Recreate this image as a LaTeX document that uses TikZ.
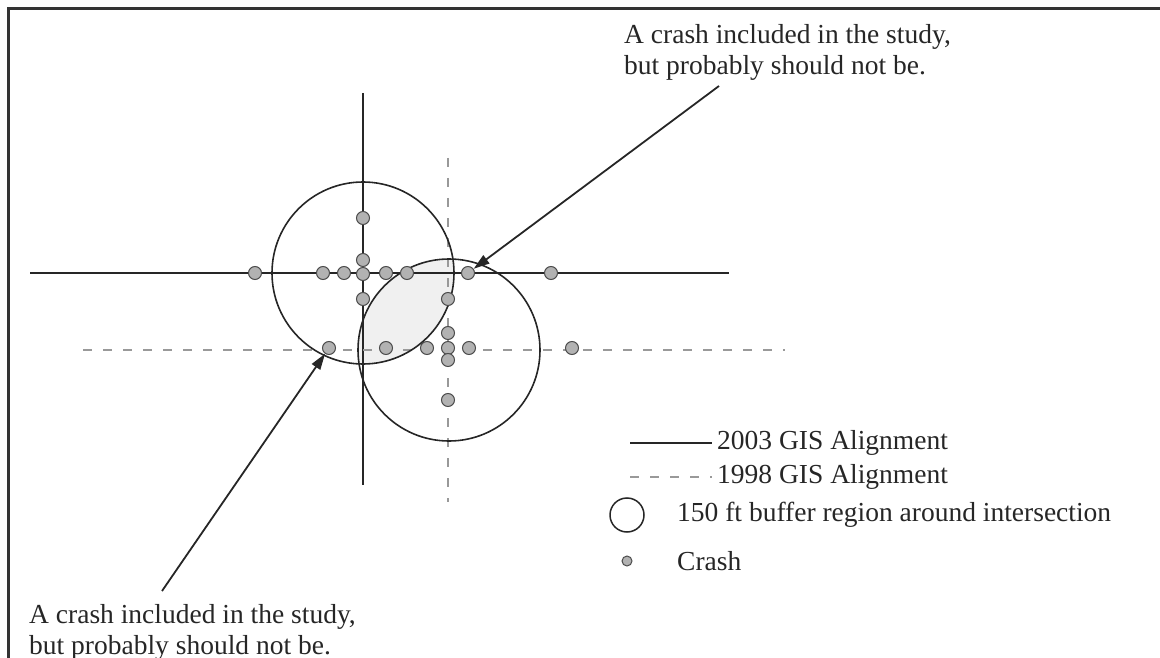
\documentclass[tikz,border=0pt]{standalone}
\usepackage{fontspec}
\setmainfont{Liberation Serif}
\usetikzlibrary{arrows.meta}
\begin{document}
\begin{tikzpicture}[x=1pt,y=-1pt,
  road/.style={line width=2.8pt,black!85},
  oldroad/.style={line width=1.6pt,black!40,dash pattern=on 9pt off 11pt},
  buffer/.style={line width=1.6pt,black!85},
  crash/.style={circle,draw=black!70,fill=black!30,line width=1pt,minimum size=13pt,inner sep=0pt},
  lbl/.style={font=\fontsize{27.5}{31}\selectfont,align=left,inner sep=0pt,text=black!85},
  callout/.style={line width=1.8pt,black!85,-{Triangle[length=16pt,width=10pt]}}]
\useasboundingbox (0,0) rectangle (1160,658);
% frame
\draw[line width=3pt,black!80] (8,658) -- (8,9) -- (1160,9);
% shading of the overlap
\begin{scope}
  \clip (363,273) circle (91);
  \fill[black!6] (449,350) circle (91);
\end{scope}
% roads
\draw[road] (30,273) coordinate (h1) -- (729,273) coordinate (h2);
\draw[road] (363,93) coordinate (v1) -- (363,485) coordinate (v2);
\draw[oldroad] (83,350) coordinate (dh1) -- (785,350) coordinate (dh2);
\draw[oldroad] (448,158) coordinate (dv1) -- (448,502) coordinate (dv2);
% buffers
\draw[buffer] (363,273) circle (91);
\draw[buffer] (449,350) circle (91);
% crashes
\node[crash] (c1) at (255,273) {};
\node[crash] (c2) at (323,273) {};
\node[crash] (c3) at (344,273) {};
\node[crash] (c4) at (363,274) {};
\node[crash] (c5) at (386,273) {};
\node[crash] (c6) at (407,273) {};
\node[crash] (c7) at (468,273) {};
\node[crash] (c8) at (551,273) {};
\node[crash] (c9) at (363,218) {};
\node[crash] (c10) at (363,260) {};
\node[crash] (c11) at (363,299) {};
\node[crash] (c12) at (329,348) {};
\node[crash] (c13) at (386,348) {};
\node[crash] (c14) at (427,348) {};
\node[crash] (c15) at (448,348) {};
\node[crash] (c16) at (469,348) {};
\node[crash] (c17) at (572,348) {};
\node[crash] (c18) at (448,299) {};
\node[crash] (c19) at (448,333) {};
\node[crash] (c20) at (448,360) {};
\node[crash] (c21) at (448,400) {};
% callouts
\node[lbl,anchor=north west] (t1) at (624,24) {A crash included in the study,\\but probably should not be.};
\node[lbl,anchor=north west] (t2) at (29,604) {A crash included in the study,\\but probably should not be.};
\coordinate (s1) at (719,86);
\coordinate (s2) at (162,591);
\draw[callout] (s1) -- (c7);
\draw[callout] (s2) -- (c12);
% legend
\coordinate (l1a) at (630,443);
\coordinate (l1b) at (712,443);
\coordinate (l2a) at (630,477);
\coordinate (l2b) at (712,477);
\draw[road,line width=2pt] (l1a) -- (l1b);
\draw[oldroad,line width=1.4pt] (l2a) -- (l2b);
\node[lbl,anchor=west] (g1) at (717,443) {2003 GIS Alignment};
\node[lbl,anchor=west] (g2) at (717,477) {1998 GIS Alignment};
\node[circle,draw=black!85,line width=1.5pt,minimum size=34pt,inner sep=0pt] (g3s) at (627,515) {};
\node[lbl,anchor=west] (g3) at (677,515) {150 ft buffer region around intersection};
\node[crash,minimum size=10pt] (g4s) at (627,561) {};
\node[lbl,anchor=west] (g4) at (677,561) {Crash};
\end{tikzpicture}
\end{document}
